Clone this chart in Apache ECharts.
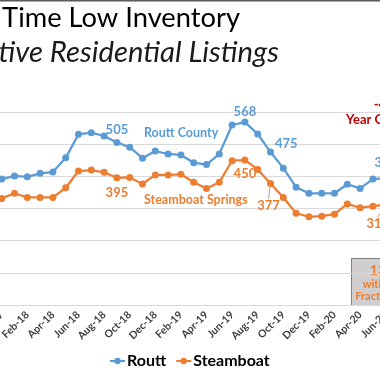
<!DOCTYPE html>
<html>
<head>
<meta charset="utf-8">
<script src="https://cdn.jsdelivr.net/npm/echarts@6/dist/echarts.min.js"></script>
<style>html,body{margin:0;padding:0;background:#fff;}#c{width:380px;height:380px;}</style>
</head>
<body>
<div id="c"></div>
<script>
const months = ['Dec-17','Jan-18','Feb-18','Mar-18','Apr-18','May-18','Jun-18','Jul-18','Aug-18','Sep-18','Oct-18','Nov-18','Dec-18','Jan-19','Feb-19','Mar-19','Apr-19','May-19','Jun-19','Jul-19','Aug-19','Sep-19','Oct-19','Nov-19','Dec-19','Jan-20','Feb-20','Mar-20','Apr-20','May-20','Jun-20'];
const routt = [391,401,398,409,413,457,530,535,525,505,490,456,478,469,466,442,436,469,559,568,531,475,425,366,347,347,347,375,362,391,394];
const steamboat = [331,347,334,334,334,364,416,419,412,395,396,376,404,404,406,381,362,381,448,450,421,377,334,285,274,276,282,314,302,307,312];
const yTicks = [0,100,200,300,400,500,600];

const FONT = 'Lato, "Open Sans", sans-serif';
const BLUE = '#5B9BD5', ORANGE = '#ED7D31';

function lbl(pos, dist, color, extra) {
  return Object.assign({show:true, position:pos, distance:dist, color:color, fontFamily:FONT, fontWeight:'bold', fontSize:13}, extra||{});
}
const routtData = routt.map((v,i)=>{
  if (i===9) return {value:v, label:lbl('top',3,BLUE)};
  if (i===19) return {value:v, label:lbl('top',0,BLUE)};
  if (i===21) return {value:v, label:lbl('right',1,BLUE,{offset:[0,-8]})};
  if (i===30) return {value:v, label:lbl('top',5,BLUE)};
  return v;
});
const steamData = steamboat.map((v,i)=>{
  if (i===9) return {value:v, label:lbl('bottom',5,ORANGE)};
  if (i===19) return {value:v, label:lbl('bottom',4,ORANGE)};
  if (i===21) return {value:v, label:lbl('bottom',5,ORANGE), labelLine:{show:true, lineStyle:{color:'#a6a6a6', width:1}}};
  if (i===30) return {value:v, label:lbl('bottom',5,ORANGE), labelLine:{show:true, lineStyle:{color:'#a6a6a6', width:1}}};
  return v;
});

const chart = echarts.init(document.getElementById('c'), null, {renderer:'canvas'});
chart.setOption({
  animation:false,
  backgroundColor:'#fff',
  grid:{left:-4.7, right:-12.1, top:111.8, bottom:75, containLabel:false, outerBoundsMode:'none'},
  legend:{
    data:['Routt','Steamboat'], left:104, top:348, itemWidth:15, itemHeight:8, itemGap:9,
    textStyle:{fontFamily:FONT, fontSize:16, fontWeight:'bold', color:'#000', padding:[0,0,0,-3]}
  },
  xAxis:{
    type:'category', data:months, boundaryGap:true,
    axisLine:{lineStyle:{color:'#d9d9d9', width:1}},
    axisTick:{show:false},
    axisLabel:{interval:1, rotate:45, margin:8, fontFamily:FONT, fontSize:10.5, fontWeight:'bold', color:'#404040'}
  },
  yAxis:{
    type:'value', min:yTicks[0], max:yTicks[yTicks.length-1], interval:100,
    axisLabel:{show:false}, axisLine:{show:false}, axisTick:{show:false},
    splitLine:{lineStyle:{color:'#d9d9d9', width:1}}
  },
  series:[
    {name:'Routt', type:'line', data:routtData, color:BLUE, symbol:'circle', symbolSize:7,
      lineStyle:{width:2.25, color:BLUE}, itemStyle:{color:BLUE}},
    {name:'Steamboat', type:'line', data:steamData, color:ORANGE, symbol:'circle', symbolSize:7,
      lineStyle:{width:2.25, color:ORANGE}, itemStyle:{color:ORANGE},
      labelLayout:function(p){
        if (p.dataIndex===21) return {dx:-2, dy:7};
        if (p.dataIndex===30) return {dx:-8, dy:4};
        return {};
      }}
  ],
  graphic:[
    {type:'rect', shape:{x:0,y:0,width:380,height:1.5}, style:{fill:'#595959'}, silent:true},
    {type:'text', style:{text:'All Time Low Inventory', x:240, y:18, align:'right', verticalAlign:'middle', font:'27.3px '+FONT, fill:'#000'}},
    {type:'text', style:{text:'Active Residential Listings', x:279, y:53, align:'right', verticalAlign:'middle', font:'italic 29.3px '+FONT, fill:'#1a1a1a'}},
    {type:'text', style:{text:'Routt County', x:144, y:133, align:'left', verticalAlign:'middle', font:'bold 12.5px '+FONT, fill:BLUE}},
    {type:'text', style:{text:'Steamboat Springs', x:144, y:200, align:'left', verticalAlign:'middle', font:'bold 12.5px '+FONT, fill:ORANGE}},
    {type:'text', style:{text:'-40%', x:389, y:105, align:'center', verticalAlign:'middle', font:'bold 13px '+FONT, fill:'#C00000'}},
    {type:'text', style:{text:'Year Over Year', x:389, y:120, align:'center', verticalAlign:'middle', font:'bold 13px '+FONT, fill:'#C00000'}},
    {type:'rect', shape:{x:351.5,y:258.5,width:62,height:47}, style:{fill:'#D0CECE', stroke:'#7F7F7F', lineWidth:1}},
    {type:'text', style:{text:'136', x:382, y:270, align:'center', verticalAlign:'middle', font:'bold 14px '+FONT, fill:ORANGE}},
    {type:'text', style:{text:'without', x:382, y:284, align:'center', verticalAlign:'middle', font:'bold 11px '+FONT, fill:ORANGE}},
    {type:'text', style:{text:'Fractionals', x:382, y:296, align:'center', verticalAlign:'middle', font:'bold 11px '+FONT, fill:ORANGE}}
  ]
});
</script>
</body>
</html>
